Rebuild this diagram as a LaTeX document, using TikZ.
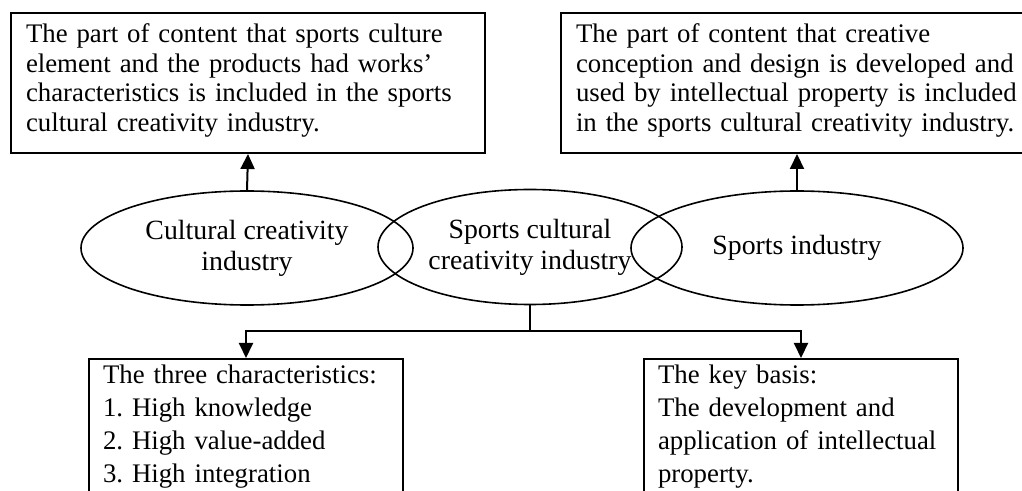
\documentclass[tikz,border=0pt]{standalone}
\usepackage{fontspec}
\setmainfont{Liberation Serif}
\usepackage{tikz}
\usetikzlibrary{shapes.geometric,arrows.meta}
\frenchspacing

\begin{document}
\begin{tikzpicture}[x=0.5pt,y=-0.5pt,
		textbox/.style={draw,line width=1pt,anchor=north west,align=left,inner xsep=7.5pt,inner ysep=5.5pt,text height=9.5pt,font=\fontsize{13.4}{14.7}\selectfont},
		oval/.style={draw,line width=0.8pt,ellipse,inner sep=0pt,align=center,font=\fontsize{13.9}{15.5}\selectfont},
		link/.style={line width=1pt,-{Triangle[length=7.5pt,width=7pt]}}]
			\useasboundingbox (0,0) rectangle (1022,491);
			
			% Top boxes
			\node[textbox,text width=222pt,text depth=49.5pt] (works) at (10,12) {The part of content that sports culture\\element and the products had works'\\characteristics is included in the sports\\cultural creativity industry.};
			\node[textbox,text width=240pt,text depth=49.5pt] (ipbox) at (560,12) {The part of content that creative\\conception and design is developed and\\used by intellectual property is included\\in the sports cultural creativity industry.};
			
			% Ellipses
			\node[oval,minimum width=166pt,minimum height=57pt] (cult) at (247,248) {Cultural creativity\\industry};
			\node[oval,minimum width=152pt,minimum height=57.5pt] (spcult) at (530,247) {Sports cultural\\creativity industry};
			\node[oval,minimum width=166pt,minimum height=57pt] (sport) at (797,248) {Sports industry};
			
			% Bottom boxes
			\node[textbox,text width=143pt,inner xsep=7pt,inner ysep=3pt,text depth=59pt,font=\fontsize{13.4}{16.5}\selectfont] (chars) at (88,358) {The three characteristics:\\1. High knowledge\\2. High value-added\\3. High integration};
			\node[textbox,text width=143pt,inner xsep=7pt,inner ysep=3pt,text depth=59pt,font=\fontsize{13.4}{16.5}\selectfont] (basis) at (643,358) {The key basis:\\The development and\\application of intellectual\\property.};
			
			% Arrows
			\draw[link] (cult.north) -- (works.south);
			\draw[link] (sport.north) -- (sport.north |- ipbox.south);
			\coordinate (split) at (530,331);
			\draw[line width=1pt] (spcult.south) -- (split);
			\draw[link] (split) -| (chars.north);
			\draw[link] (split) -| (basis.north);
		\end{tikzpicture}
\end{document}
